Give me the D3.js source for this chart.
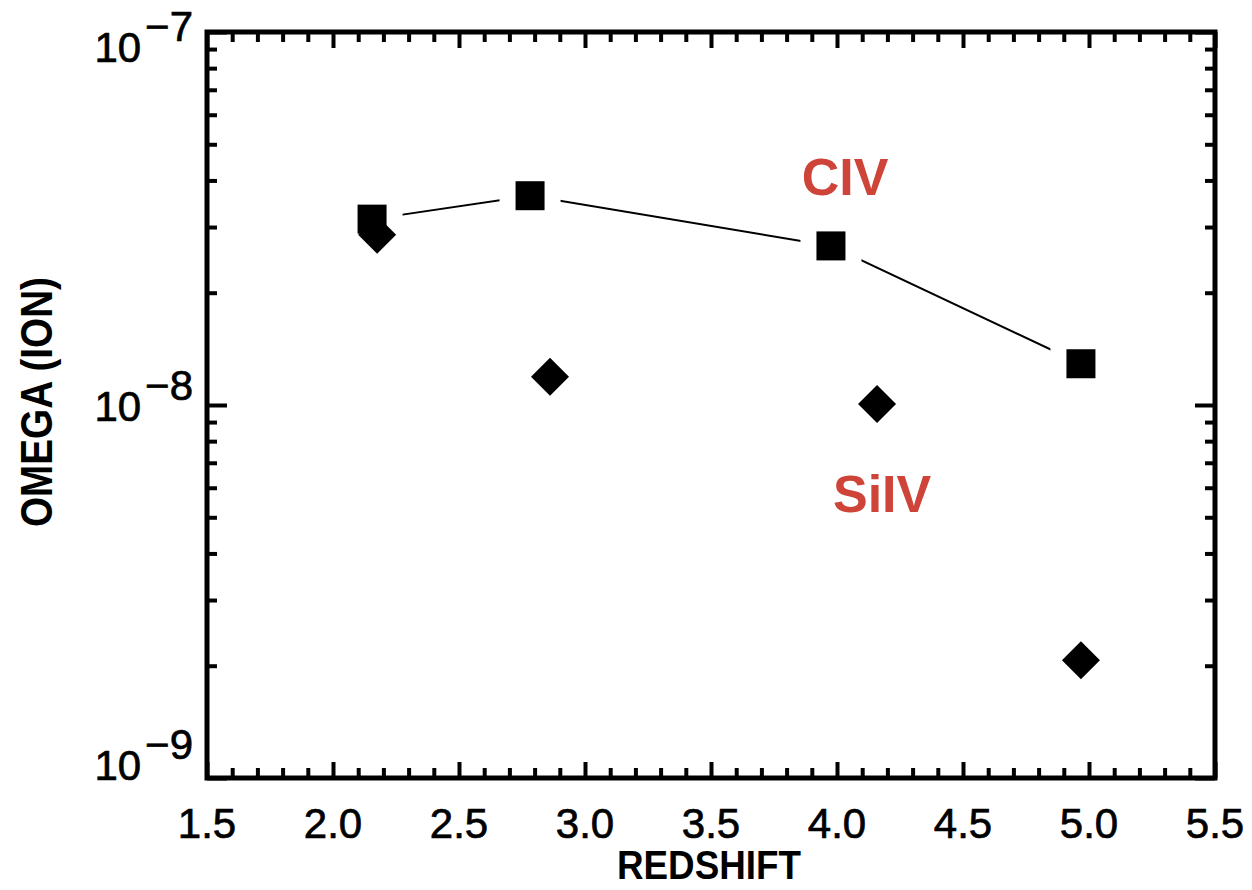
<!DOCTYPE html>
<html>
<head>
<meta charset="utf-8">
<script src="https://cdn.jsdelivr.net/npm/d3@7"></script>
<style>
  body { margin: 0; background: #fff; }
  svg { display: block; }
</style>
</head>
<body>
<svg id="chart" width="1252" height="890"></svg>
<script>
// C IV mass density by redshift (squares joined by a line)
const civRedshift = [2.155, 2.782, 3.976, 4.968];
const civOmega    = [3.15e-8, 3.64e-8, 2.67e-8, 1.29e-8];

// Si IV mass density by redshift (diamonds)
const siivRedshift = [2.175, 2.861, 4.159, 4.968];
const siivOmega    = [2.86e-8, 1.19e-8, 1.006e-8, 2.07e-9];

// Axis ticks
const xMajorTicks = [1.5, 2.0, 2.5, 3.0, 3.5, 4.0, 4.5, 5.0, 5.5];
const yDecades    = [1e-9, 1e-8, 1e-7];
const yExponents  = ["−9", "−8", "−7"];

// Ion labels, placed in data coordinates
const ionNames    = ["CIV", "SiIV"];
const ionLabelX   = [3.86, 3.984];
const ionLabelY   = [3.66e-8, 5.16e-9];

const svg = d3.select("#chart");
const plot = { left: 207, right: 1215, top: 32, bottom: 778 };

const x = d3.scaleLinear().domain([1.5, 5.5]).range([plot.left, plot.right]);
const y = d3.scaleLog().domain([1e-9, 1e-7]).range([plot.bottom, plot.top]);

const FONT = "'Liberation Sans', Arial, Helvetica, sans-serif";

// minor ticks
const xMinorTicks = d3.range(15, 56).filter(v => v % 5 !== 0).map(v => v / 10);
const yMinorTicks = [];
yDecades.slice(0, -1).forEach(d => { for (let k = 2; k <= 9; k++) yMinorTicks.push(d * k); });

function styleAxis(g) {
  g.select(".domain").remove();
  g.selectAll(".tick line").attr("stroke", "#000").attr("stroke-width", 4);
  g.selectAll(".tick text").remove();
}

const axes = svg.append("g");
// bottom
axes.append("g").attr("transform", `translate(0,${plot.bottom})`)
  .call(d3.axisBottom(x).tickValues(xMinorTicks).tickSize(-10)).call(styleAxis);
axes.append("g").attr("transform", `translate(0,${plot.bottom})`)
  .call(d3.axisBottom(x).tickValues(xMajorTicks).tickSize(-16)).call(styleAxis);
// top
axes.append("g").attr("transform", `translate(0,${plot.top})`)
  .call(d3.axisTop(x).tickValues(xMinorTicks).tickSize(-10)).call(styleAxis);
axes.append("g").attr("transform", `translate(0,${plot.top})`)
  .call(d3.axisTop(x).tickValues(xMajorTicks).tickSize(-16)).call(styleAxis);
// left
axes.append("g").attr("transform", `translate(${plot.left},0)`)
  .call(d3.axisLeft(y).tickValues(yMinorTicks).tickSize(-10)).call(styleAxis);
axes.append("g").attr("transform", `translate(${plot.left},0)`)
  .call(d3.axisLeft(y).tickValues(yDecades).tickSize(-20)).call(styleAxis);
// right
axes.append("g").attr("transform", `translate(${plot.right},0)`)
  .call(d3.axisRight(y).tickValues(yMinorTicks).tickSize(-10)).call(styleAxis);
axes.append("g").attr("transform", `translate(${plot.right},0)`)
  .call(d3.axisRight(y).tickValues(yDecades).tickSize(-20)).call(styleAxis);

// frame
svg.append("rect")
  .attr("x", plot.left).attr("y", plot.top)
  .attr("width", plot.right - plot.left).attr("height", plot.bottom - plot.top)
  .attr("fill", "none").attr("stroke", "#000").attr("stroke-width", 5);

// x tick labels
svg.append("g").selectAll("text").data(xMajorTicks).join("text")
  .attr("x", d => x(d)).attr("y", plot.bottom + 60)
  .attr("text-anchor", "middle")
  .attr("font-family", FONT).attr("font-size", 42).attr("fill", "#000")
  .attr("stroke", "#000").attr("stroke-width", 0.7)
  .text(d => d3.format(".1f")(d));

// y tick labels as 10^n
const labelShift = d3.scaleLinear().domain([plot.top, plot.bottom]).range([30, 2]);
const yLab = svg.append("g").selectAll("text").data(yDecades).join("text")
  .attr("x", 193)
  .attr("y", d => y(d) + labelShift(y(d)))
  .attr("text-anchor", "end")
  .attr("font-family", FONT).attr("font-size", 42).attr("fill", "#000")
  .attr("stroke", "#000").attr("stroke-width", 0.7);
yLab.append("tspan").text("10");
yLab.append("tspan").attr("dx", 4).attr("dy", -21).text((d, i) => yExponents[i]);

// axis titles
svg.append("text")
  .attr("x", 617).attr("y", 879)
  .attr("font-family", FONT).attr("font-weight", "bold").attr("font-size", 40)
  .attr("textLength", 184).attr("lengthAdjust", "spacingAndGlyphs")
  .text("REDSHIFT");

svg.append("text")
  .attr("transform", "translate(52,527) rotate(-90)")
  .attr("font-family", FONT).attr("font-weight", "bold").attr("font-size", 44)
  .attr("textLength", 250).attr("lengthAdjust", "spacingAndGlyphs")
  .text("OMEGA (ION)");

// C IV connecting line
const civPts = civRedshift.map((z, i) => [z, civOmega[i]]);
svg.append("path")
  .datum(civPts)
  .attr("d", d3.line().x(d => x(d[0])).y(d => y(d[1])))
  .attr("fill", "none").attr("stroke", "#000").attr("stroke-width", 2);

// white clearance around each square so the line stops short of it
const SQ = 29, GAP = 16;
svg.append("g").selectAll("rect").data(civPts).join("rect")
  .attr("x", d => x(d[0]) - SQ / 2 - GAP).attr("y", d => y(d[1]) - SQ / 2 - GAP)
  .attr("width", SQ + 2 * GAP).attr("height", SQ + 2 * GAP)
  .attr("fill", "#fff");

// squares
svg.append("g").selectAll("rect").data(civPts).join("rect")
  .attr("x", d => x(d[0]) - SQ / 2).attr("y", d => y(d[1]) - SQ / 2)
  .attr("width", SQ).attr("height", SQ)
  .attr("fill", "#000");

// diamonds
const R = 19;
const siivPts = siivRedshift.map((z, i) => [z, siivOmega[i]]);
svg.append("g").selectAll("path").data(siivPts).join("path")
  .attr("transform", d => `translate(${x(d[0])},${y(d[1])})`)
  .attr("d", `M0,${-R}L${R},0L0,${R}L${-R},0Z`)
  .attr("fill", "#000");

// ion labels
svg.append("g").selectAll("text").data(ionNames).join("text")
  .attr("x", (d, i) => x(ionLabelX[i]))
  .attr("y", (d, i) => y(ionLabelY[i]))
  .attr("font-family", FONT).attr("font-weight", "bold").attr("font-size", 52)
  .attr("fill", "#ce4439")
  .text(d => d);
</script>
</body>
</html>
